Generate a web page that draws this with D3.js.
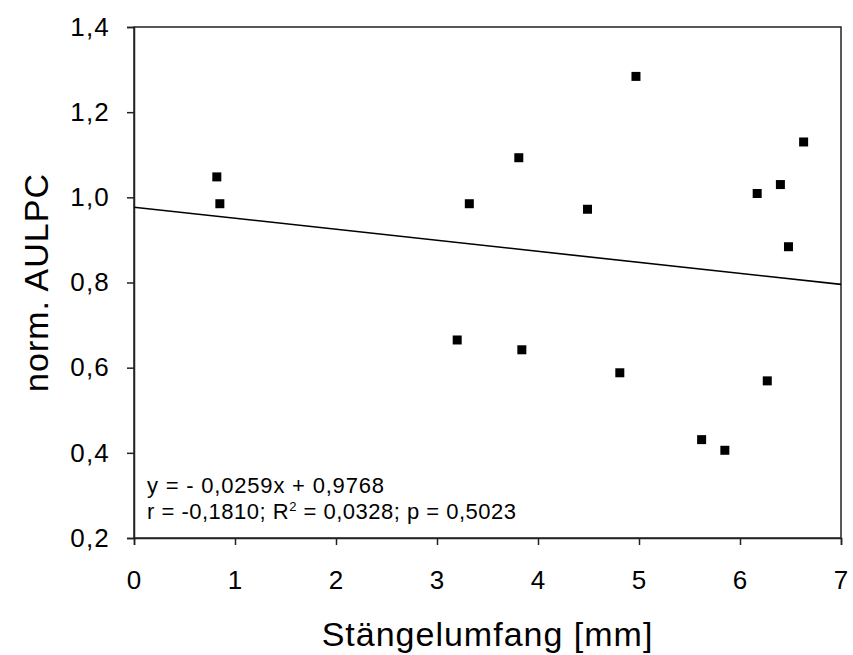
<!DOCTYPE html>
<html>
<head>
<meta charset="utf-8">
<script src="https://cdn.jsdelivr.net/npm/d3@7"></script>
<style>
  body { margin: 0; background: #fff; }
  svg text { font-family: "Liberation Sans", Arial, sans-serif; fill: #000; }
</style>
</head>
<body>
<svg width="853" height="655"></svg>
<script>
// Stängelumfang [mm] vs. norm. AULPC
const stemGirth = [0.82, 0.85, 3.20, 3.32, 3.81, 3.84, 4.49, 4.81, 4.97, 5.62, 5.85, 6.17, 6.27, 6.40, 6.48, 6.63];
const aulpc = [1.048, 0.985, 0.665, 0.985, 1.093, 0.642, 0.972, 0.588, 1.284, 0.431, 0.406, 1.009, 0.569, 1.030, 0.884, 1.130];
const xTicks = [0, 1, 2, 3, 4, 5, 6, 7];
const yTicks = [0.2, 0.4, 0.6, 0.8, 1.0, 1.2, 1.4];
const slope = -0.0259;
const intercept = 0.9768;

const svg = d3.select('svg');
const margin = { left: 134, right: 12, top: 27, bottom: 117 };
const width = 853 - margin.left - margin.right;
const height = 655 - margin.top - margin.bottom;

const x = d3.scaleLinear().domain([0, 7]).range([0, width]);
const y = d3.scaleLinear().domain([0.2, 1.4]).range([height, 0]);
const comma = d => d3.format('.1f')(d).replace('.', ',');

const g = svg.append('g').attr('transform', `translate(${margin.left},${margin.top})`);

// frame
g.append('rect')
  .attr('width', width).attr('height', height)
  .attr('fill', 'none').attr('stroke', '#222').attr('stroke-width', 1.5);

const xAxis = g.append('g')
  .attr('transform', `translate(0,${height})`)
  .call(d3.axisBottom(x).tickValues(xTicks).tickSize(7).tickPadding(26).tickFormat(d3.format('d')));
const yAxis = g.append('g')
  .call(d3.axisLeft(y).tickValues(yTicks).tickSize(7).tickPadding(17).tickFormat(comma));

[xAxis, yAxis].forEach(a => {
  a.select('.domain').attr('stroke', '#222').attr('stroke-width', 1.5);
  a.selectAll('.tick line').attr('stroke', '#222').attr('stroke-width', 1.5);
  a.selectAll('text').style('font-size', '26px').style('letter-spacing', '1.2px').attr('fill', '#000');
});

// regression line
g.append('line')
  .attr('x1', x(0)).attr('y1', y(intercept))
  .attr('x2', x(7)).attr('y2', y(slope * 7 + intercept))
  .attr('stroke', '#000').attr('stroke-width', 1.6);

// points
const size = 9;
g.selectAll('rect.pt')
  .data(stemGirth)
  .join('rect')
  .attr('class', 'pt')
  .attr('x', (d, i) => x(d) - size / 2)
  .attr('y', (d, i) => y(aulpc[i]) - size / 2)
  .attr('width', size).attr('height', size)
  .attr('fill', '#000');

// annotation
g.append('text')
  .attr('x', 13).attr('y', 466)
  .style('font-size', '22px').style('letter-spacing', '0.8px')
  .text('y = - 0,0259x + 0,9768');
const t2 = g.append('text')
  .attr('x', 13).attr('y', 492)
  .style('font-size', '22px').style('letter-spacing', '0.5px');
t2.append('tspan').text('r = -0,1810; R');
t2.append('tspan').attr('dy', -8).style('font-size', '13px').text('2');
t2.append('tspan').attr('dy', 8).text(' = 0,0328; p = 0,5023');

// axis titles
svg.append('text')
  .attr('x', margin.left + width / 2).attr('y', 646)
  .attr('text-anchor', 'middle')
  .style('font-size', '34px').style('letter-spacing', '1px')
  .text('Stängelumfang [mm]');
svg.append('text')
  .attr('transform', `translate(48,${margin.top + height / 2}) rotate(-90)`)
  .attr('text-anchor', 'middle')
  .style('font-size', '34px').style('letter-spacing', '1px')
  .text('norm. AULPC');
</script>
</body>
</html>
